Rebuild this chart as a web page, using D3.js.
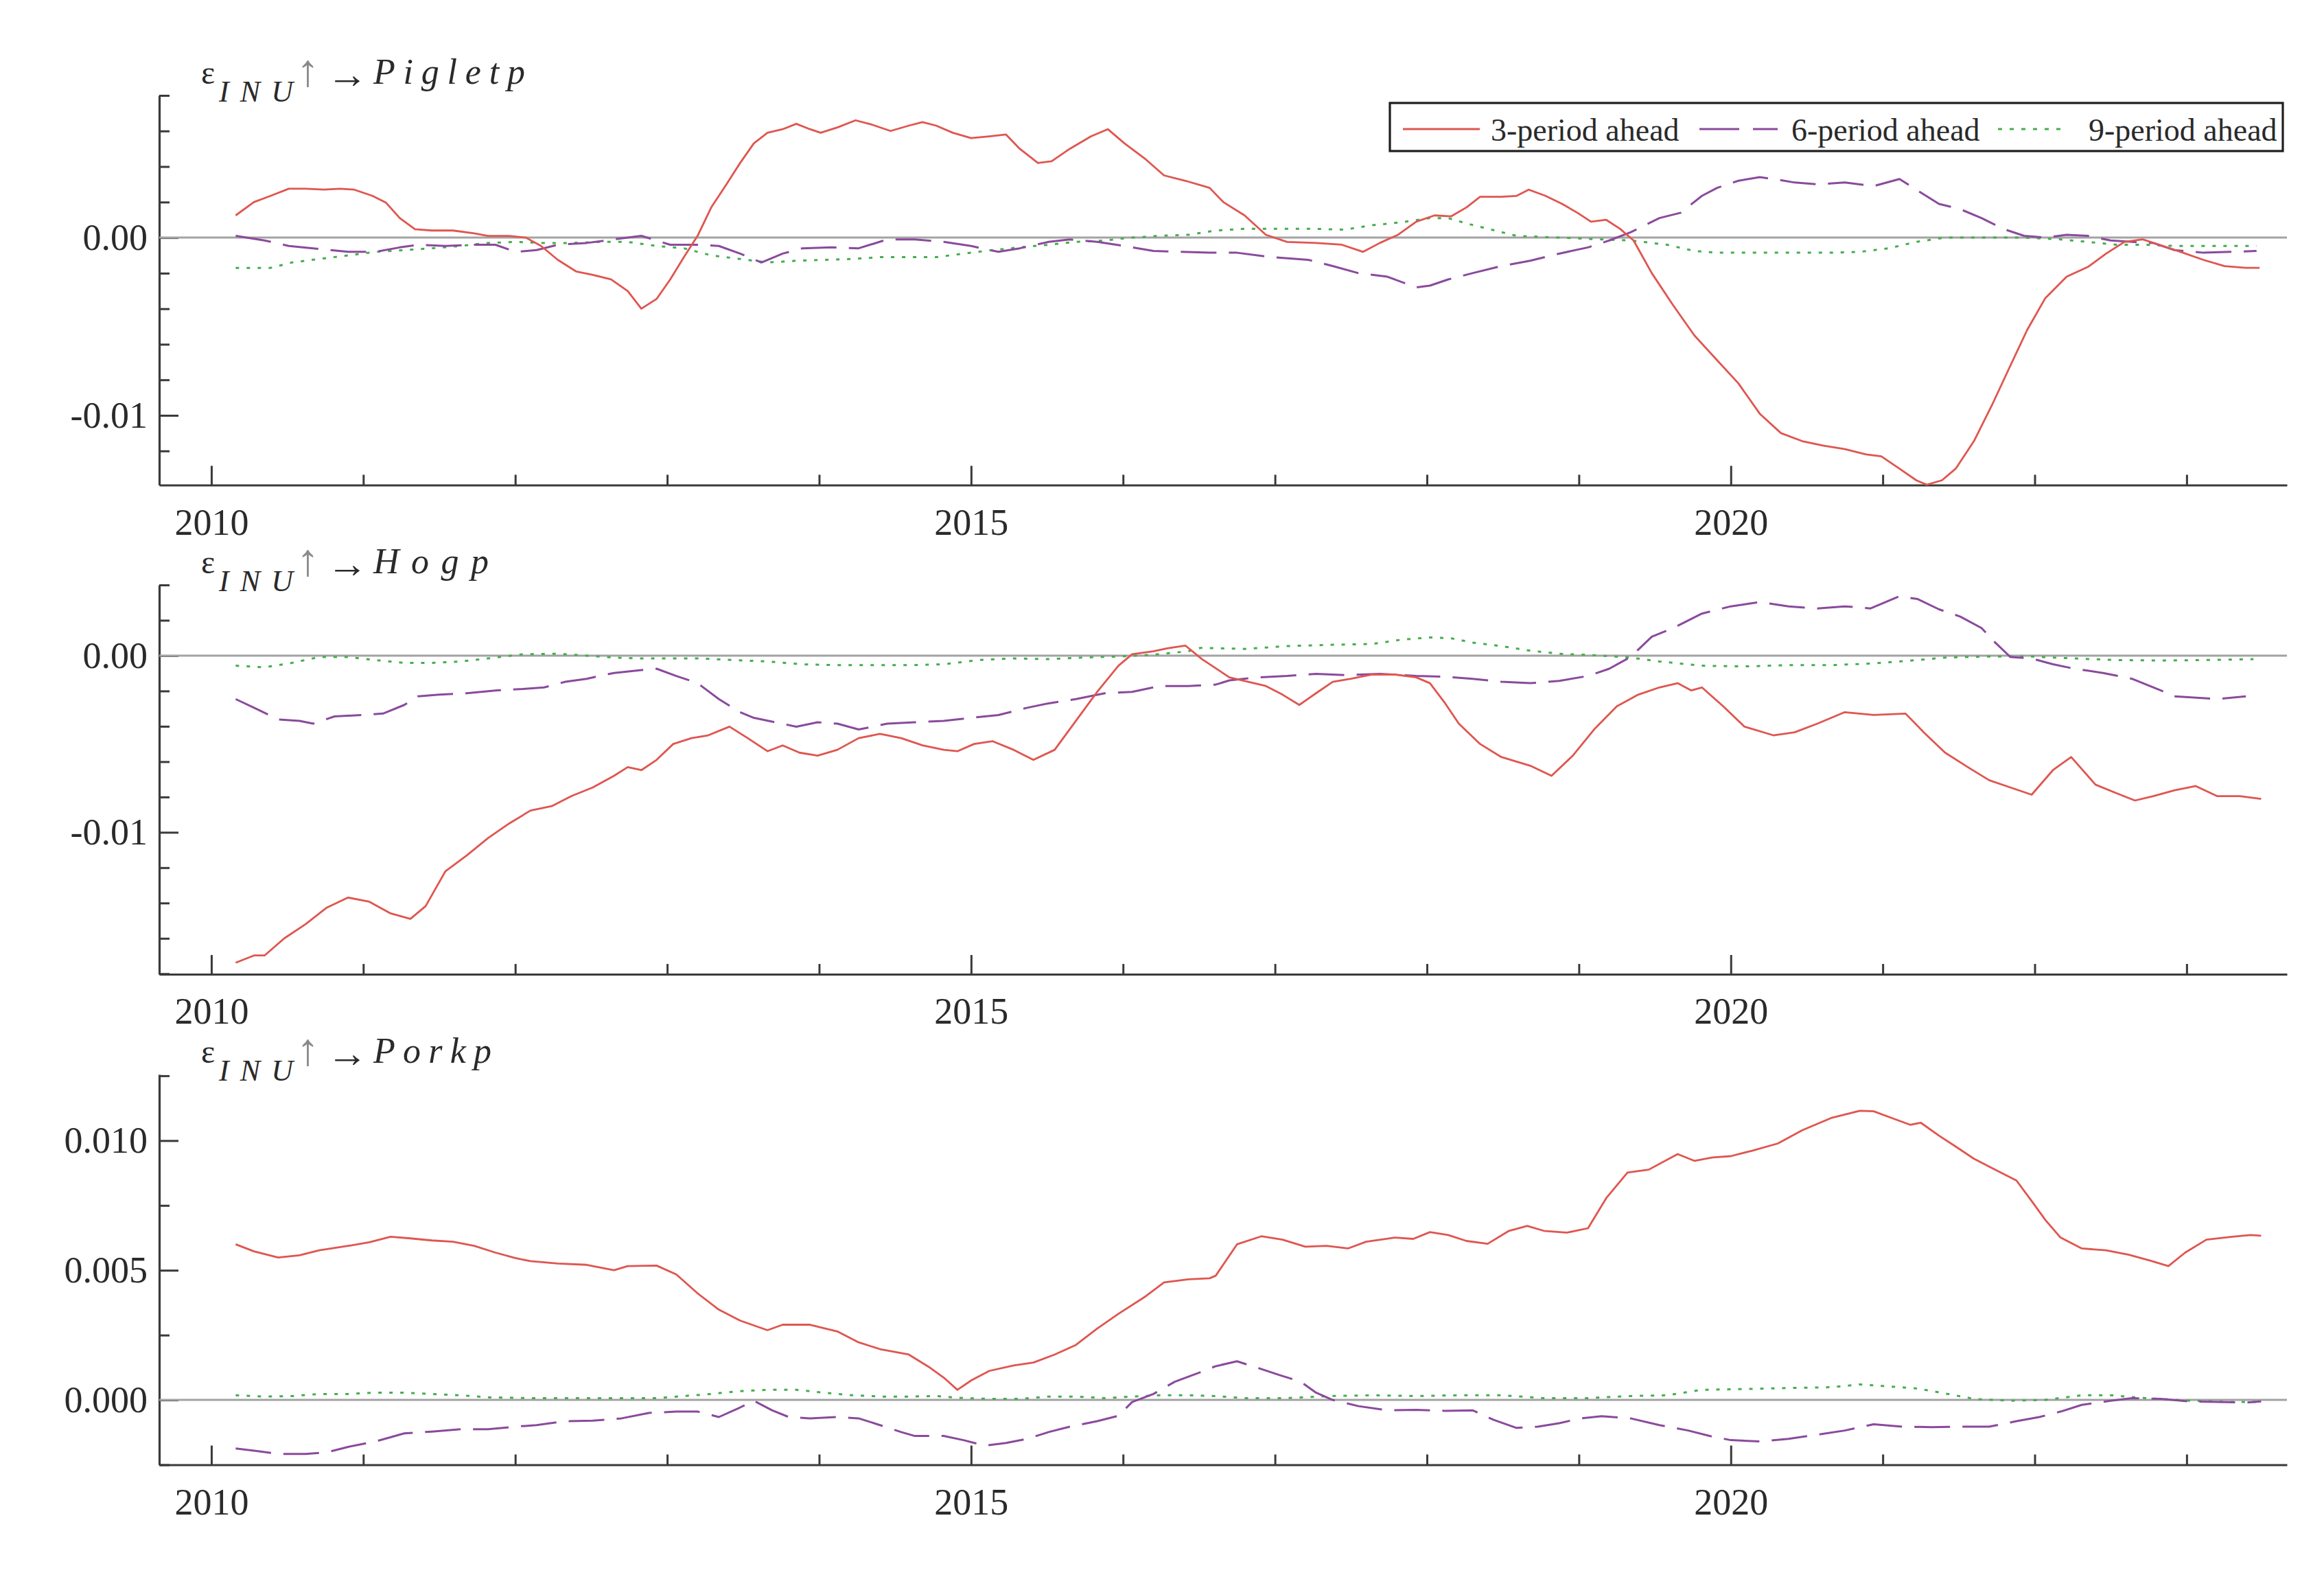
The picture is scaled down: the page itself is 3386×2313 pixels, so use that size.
<!DOCTYPE html>
<html><head><meta charset="utf-8">
<script src="https://cdn.jsdelivr.net/npm/d3@7"></script>
<style>html,body{margin:0;padding:0;background:#fff}svg{display:block}</style>
</head><body>
<svg id="chart" width="3386" height="2313"></svg>
<script>
// ---------------- DATA ----------------
const seriesLabels = ["3-period ahead", "6-period ahead", "9-period ahead"];
const panelNames = ["Pigletp", "Hogp", "Porkp"];
const xTickYears = [2010, 2011, 2012, 2013, 2014, 2015, 2016, 2017, 2018, 2019, 2020, 2021, 2022, 2023];
const xLabelYears = [2010, 2015, 2020];
const pigletMajorTicks = [-0.01, 0];
const pigletTickLabels = ["-0.01", "0.00"];
const hogMajorTicks = [-0.01, 0];
const hogTickLabels = ["-0.01", "0.00"];
const porkMajorTicks = [0, 0.005, 0.01];
const porkTickLabels = ["0.000", "0.005", "0.010"];

// [decimal year, value]
const pigletp3 = [[2010.16,0.00125],[2010.28,0.0020],[2010.39,0.00235],[2010.51,0.00275],[2010.62,0.00275],[2010.74,0.0027],[2010.85,0.00275],[2010.94,0.0027],[2011.06,0.00235],[2011.15,0.00196],[2011.24,0.0011],[2011.34,0.00047],[2011.45,0.0004],[2011.59,0.0004],[2011.73,0.00024],[2011.82,0.0001],[2011.96,0.0001],[2012.07,0.0],[2012.17,-0.00047],[2012.28,-0.00125],[2012.40,-0.0019],[2012.51,-0.0021],[2012.63,-0.00235],[2012.74,-0.003],[2012.83,-0.004],[2012.93,-0.00345],[2013.02,-0.00235],[2013.11,-0.0011],[2013.20,0.0001],[2013.29,0.0017],[2013.39,0.003],[2013.48,0.0042],[2013.57,0.0053],[2013.66,0.0059],[2013.76,0.0061],[2013.85,0.0064],[2013.94,0.0061],[2014.01,0.0059],[2014.12,0.0062],[2014.24,0.0066],[2014.35,0.00635],[2014.47,0.006],[2014.59,0.0063],[2014.68,0.0065],[2014.77,0.0063],[2014.88,0.0059],[2015.00,0.0056],[2015.12,0.0057],[2015.23,0.0058],[2015.32,0.005],[2015.44,0.0042],[2015.53,0.0043],[2015.65,0.005],[2015.79,0.0057],[2015.90,0.0061],[2016.01,0.0053],[2016.15,0.0044],[2016.27,0.0035],[2016.41,0.0032],[2016.57,0.0028],[2016.66,0.002],[2016.80,0.00125],[2016.94,0.00016],[2017.08,-0.00024],[2017.27,-0.0003],[2017.44,-0.0004],[2017.58,-0.0008],[2017.69,-0.0003],[2017.81,0.00016],[2017.93,0.0009],[2018.05,0.00125],[2018.16,0.0012],[2018.26,0.0017],[2018.35,0.0023],[2018.49,0.0023],[2018.59,0.00235],[2018.67,0.0027],[2018.78,0.00235],[2018.89,0.0019],[2018.99,0.0014],[2019.08,0.0009],[2019.18,0.001],[2019.27,0.0005],[2019.36,-0.00016],[2019.48,-0.002],[2019.62,-0.0038],[2019.76,-0.0055],[2019.91,-0.0069],[2020.05,-0.0082],[2020.19,-0.0099],[2020.33,-0.011],[2020.47,-0.01145],[2020.61,-0.0117],[2020.75,-0.0119],[2020.89,-0.0122],[2020.99,-0.0123],[2021.11,-0.013],[2021.22,-0.01365],[2021.29,-0.0139],[2021.39,-0.01365],[2021.48,-0.013],[2021.60,-0.01145],[2021.72,-0.0094],[2021.84,-0.0072],[2021.95,-0.0052],[2022.07,-0.0034],[2022.21,-0.0022],[2022.35,-0.00165],[2022.47,-0.0009],[2022.59,-0.00024],[2022.71,-0.0001],[2022.82,-0.0004],[2022.96,-0.0008],[2023.11,-0.00125],[2023.25,-0.0016],[2023.39,-0.0017],[2023.48,-0.0017]];
const pigletp6 = [[2010.16,0.0001],[2010.35,-0.00016],[2010.51,-0.00047],[2010.67,-0.0006],[2010.90,-0.0008],[2011.08,-0.0008],[2011.24,-0.00055],[2011.36,-0.0004],[2011.54,-0.00047],[2011.73,-0.0004],[2011.87,-0.0004],[2012.00,-0.0008],[2012.14,-0.0007],[2012.28,-0.0004],[2012.47,-0.0003],[2012.65,-0.0001],[2012.83,0.0001],[2013.02,-0.0004],[2013.20,-0.0004],[2013.34,-0.00047],[2013.48,-0.0009],[2013.62,-0.0014],[2013.76,-0.0009],[2013.89,-0.0006],[2014.08,-0.00055],[2014.26,-0.0006],[2014.45,-0.0001],[2014.63,-0.0001],[2014.82,-0.00024],[2015.00,-0.00047],[2015.18,-0.0008],[2015.32,-0.0006],[2015.51,-0.00024],[2015.65,-0.0001],[2015.83,-0.00024],[2016.01,-0.00047],[2016.20,-0.00075],[2016.38,-0.0008],[2016.57,-0.00085],[2016.75,-0.00085],[2016.98,-0.0011],[2017.22,-0.00125],[2017.38,-0.0016],[2017.55,-0.002],[2017.74,-0.0022],[2017.93,-0.0028],[2018.02,-0.0027],[2018.14,-0.00235],[2018.30,-0.002],[2018.49,-0.0016],[2018.68,-0.0013],[2018.87,-0.0009],[2019.06,-0.00055],[2019.20,-0.00016],[2019.34,0.0003],[2019.53,0.0011],[2019.67,0.0014],[2019.81,0.00235],[2019.91,0.0028],[2020.05,0.0032],[2020.19,0.0034],[2020.28,0.0033],[2020.42,0.0031],[2020.57,0.003],[2020.75,0.0031],[2020.94,0.0029],[2021.11,0.0033],[2021.22,0.0027],[2021.37,0.0019],[2021.51,0.0016],[2021.65,0.0011],[2021.79,0.0005],[2021.93,0.0001],[2022.07,0.0],[2022.21,0.00016],[2022.35,0.0001],[2022.50,-0.00016],[2022.64,-0.00024],[2022.78,-0.0003],[2022.92,-0.0007],[2023.11,-0.00085],[2023.30,-0.0008],[2023.46,-0.00075]];
const pigletp9 = [[2010.16,-0.0017],[2010.39,-0.0017],[2010.53,-0.0014],[2010.71,-0.0012],[2010.90,-0.001],[2011.08,-0.0008],[2011.27,-0.0007],[2011.45,-0.0006],[2011.64,-0.00047],[2011.82,-0.0003],[2012.00,-0.00024],[2012.19,-0.0003],[2012.37,-0.0003],[2012.56,-0.00024],[2012.74,-0.00024],[2012.93,-0.00047],[2013.11,-0.0006],[2013.29,-0.001],[2013.48,-0.0012],[2013.66,-0.0014],[2013.85,-0.0013],[2014.03,-0.00125],[2014.22,-0.0012],[2014.40,-0.0011],[2014.59,-0.0011],[2014.77,-0.0011],[2014.95,-0.0009],[2015.14,-0.0007],[2015.32,-0.00055],[2015.51,-0.0004],[2015.69,-0.00024],[2015.88,-0.00016],[2016.06,0.0],[2016.24,0.0001],[2016.43,0.00016],[2016.61,0.0004],[2016.80,0.0005],[2016.98,0.0005],[2017.22,0.0005],[2017.46,0.00045],[2017.64,0.0007],[2017.83,0.00086],[2018.02,0.0011],[2018.14,0.0011],[2018.26,0.0008],[2018.40,0.0005],[2018.59,0.0001],[2018.87,0.0],[2019.15,-0.0001],[2019.34,-0.00016],[2019.58,-0.0004],[2019.76,-0.00075],[2019.91,-0.00085],[2020.28,-0.00085],[2020.66,-0.00085],[2020.85,-0.0008],[2021.04,-0.0006],[2021.22,-0.00024],[2021.41,0.0],[2021.70,0.0],[2021.93,0.0],[2022.17,-0.0001],[2022.35,-0.00024],[2022.54,-0.0004],[2022.73,-0.0004],[2022.92,-0.00047],[2023.11,-0.00047],[2023.30,-0.00047],[2023.46,-0.00047]];

const hogp3 = [[2010.16,-0.01738],[2010.28,-0.01697],[2010.35,-0.01697],[2010.48,-0.016],[2010.62,-0.0152],[2010.76,-0.01426],[2010.90,-0.01369],[2011.04,-0.01393],[2011.18,-0.01459],[2011.31,-0.0149],[2011.41,-0.01418],[2011.54,-0.01221],[2011.68,-0.01131],[2011.82,-0.01033],[2011.96,-0.0095],[2012.10,-0.00877],[2012.24,-0.00852],[2012.37,-0.00795],[2012.51,-0.00746],[2012.65,-0.0068],[2012.74,-0.00631],[2012.83,-0.00648],[2012.93,-0.0059],[2013.04,-0.005],[2013.16,-0.00467],[2013.27,-0.00451],[2013.41,-0.00402],[2013.53,-0.00467],[2013.66,-0.00541],[2013.76,-0.00508],[2013.87,-0.00549],[2013.99,-0.00566],[2014.12,-0.00533],[2014.26,-0.00467],[2014.40,-0.00443],[2014.54,-0.00467],[2014.68,-0.00508],[2014.82,-0.00533],[2014.91,-0.00541],[2015.02,-0.005],[2015.14,-0.00484],[2015.28,-0.00533],[2015.41,-0.0059],[2015.55,-0.00533],[2015.69,-0.00369],[2015.83,-0.00205],[2015.97,-0.00057],[2016.06,0.00008],[2016.20,0.00025],[2016.29,0.00041],[2016.41,0.00057],[2016.52,-0.0002],[2016.70,-0.00123],[2016.94,-0.00172],[2017.05,-0.00221],[2017.16,-0.00279],[2017.27,-0.00213],[2017.38,-0.00148],[2017.50,-0.00131],[2017.64,-0.00107],[2017.79,-0.00107],[2017.93,-0.00123],[2018.02,-0.00156],[2018.12,-0.0027],[2018.21,-0.00385],[2018.35,-0.005],[2018.49,-0.00574],[2018.68,-0.00623],[2018.82,-0.0068],[2018.96,-0.00566],[2019.10,-0.00418],[2019.25,-0.00287],[2019.39,-0.00221],[2019.53,-0.0018],[2019.65,-0.00156],[2019.74,-0.00197],[2019.81,-0.0018],[2019.95,-0.00287],[2020.09,-0.00402],[2020.28,-0.00451],[2020.42,-0.00434],[2020.57,-0.00385],[2020.75,-0.0032],[2020.94,-0.00336],[2021.15,-0.00328],[2021.27,-0.00434],[2021.41,-0.00549],[2021.56,-0.00631],[2021.70,-0.00705],[2021.84,-0.00746],[2021.98,-0.00787],[2022.12,-0.00648],[2022.24,-0.00574],[2022.40,-0.0073],[2022.54,-0.00779],[2022.66,-0.0082],[2022.78,-0.00795],[2022.92,-0.00762],[2023.06,-0.00738],[2023.20,-0.00795],[2023.35,-0.00795],[2023.49,-0.00811]];
const hogp6 = [[2010.16,-0.00246],[2010.30,-0.00303],[2010.44,-0.00361],[2010.58,-0.00369],[2010.67,-0.00385],[2010.81,-0.00344],[2010.99,-0.00336],[2011.13,-0.00328],[2011.27,-0.00279],[2011.36,-0.0023],[2011.50,-0.00221],[2011.68,-0.00213],[2011.87,-0.00197],[2012.05,-0.00189],[2012.19,-0.0018],[2012.33,-0.00148],[2012.47,-0.00131],[2012.65,-0.00098],[2012.83,-0.00082],[2012.93,-0.00074],[2013.06,-0.00115],[2013.20,-0.00156],[2013.34,-0.00246],[2013.48,-0.0032],[2013.57,-0.00352],[2013.71,-0.00377],[2013.85,-0.00402],[2013.99,-0.00377],[2014.12,-0.00385],[2014.26,-0.00418],[2014.45,-0.00385],[2014.63,-0.00377],[2014.82,-0.00369],[2015.00,-0.00352],[2015.18,-0.00336],[2015.37,-0.00295],[2015.51,-0.0027],[2015.69,-0.00246],[2015.88,-0.00213],[2016.06,-0.00205],[2016.24,-0.00172],[2016.43,-0.00172],[2016.61,-0.00164],[2016.70,-0.0014],[2016.89,-0.00123],[2017.08,-0.00115],[2017.27,-0.00103],[2017.46,-0.0011],[2017.69,-0.00103],[2017.93,-0.00115],[2018.12,-0.0012],[2018.30,-0.00131],[2018.49,-0.00148],[2018.68,-0.00156],[2018.87,-0.00143],[2019.06,-0.00115],[2019.20,-0.00074],[2019.34,-0.00008],[2019.48,0.00107],[2019.62,0.00156],[2019.81,0.00238],[2020.00,0.00279],[2020.19,0.00303],[2020.38,0.00279],[2020.57,0.00267],[2020.75,0.00279],[2020.92,0.00267],[2021.11,0.00336],[2021.23,0.0032],[2021.37,0.00262],[2021.51,0.00221],[2021.65,0.00156],[2021.74,0.00074],[2021.84,-0.00008],[2021.98,-0.00016],[2022.12,-0.00049],[2022.26,-0.00074],[2022.45,-0.00098],[2022.64,-0.00131],[2022.83,-0.00197],[2022.92,-0.0023],[2023.20,-0.00246],[2023.39,-0.0023]];
const hogp9 = [[2010.16,-0.00057],[2010.35,-0.00066],[2010.53,-0.00041],[2010.71,-0.00008],[2010.90,-0.00008],[2011.08,-0.00025],[2011.27,-0.00041],[2011.45,-0.00041],[2011.64,-0.00033],[2011.82,-0.00016],[2012.05,0.00008],[2012.28,0.00011],[2012.47,0.0],[2012.65,-0.00011],[2012.83,-0.00016],[2013.02,-0.00016],[2013.20,-0.00016],[2013.43,-0.00025],[2013.66,-0.00033],[2013.89,-0.00049],[2014.12,-0.00054],[2014.35,-0.00054],[2014.59,-0.00054],[2014.82,-0.00049],[2015.05,-0.00025],[2015.28,-0.00016],[2015.51,-0.0002],[2015.74,-0.00011],[2015.97,-0.00005],[2016.20,0.00005],[2016.43,0.00025],[2016.51,0.00044],[2016.80,0.00038],[2017.08,0.00054],[2017.36,0.00061],[2017.64,0.00066],[2017.83,0.0009],[2018.02,0.00103],[2018.16,0.00098],[2018.30,0.00074],[2018.49,0.00054],[2018.68,0.00028],[2018.87,0.00011],[2019.15,0.0],[2019.34,-0.00011],[2019.53,-0.00033],[2019.81,-0.00057],[2020.09,-0.00061],[2020.38,-0.00054],[2020.66,-0.00054],[2020.94,-0.00044],[2021.23,-0.00025],[2021.41,-0.00011],[2021.70,-0.00005],[2021.98,-0.00005],[2022.26,-0.00016],[2022.54,-0.00025],[2022.83,-0.00028],[2023.11,-0.00025],[2023.44,-0.0002]];

const porkp3 = [[2010.16,0.006],[2010.28,0.00573],[2010.44,0.00549],[2010.58,0.00558],[2010.71,0.00577],[2010.90,0.00594],[2011.04,0.00608],[2011.18,0.00629],[2011.31,0.00623],[2011.45,0.00615],[2011.59,0.0061],[2011.73,0.00594],[2011.87,0.00568],[2012.00,0.00547],[2012.10,0.00535],[2012.28,0.00526],[2012.47,0.00521],[2012.65,0.005],[2012.74,0.00516],[2012.93,0.00518],[2013.06,0.00484],[2013.20,0.00411],[2013.34,0.00348],[2013.48,0.00306],[2013.66,0.00269],[2013.76,0.0029],[2013.94,0.0029],[2014.12,0.00264],[2014.26,0.00222],[2014.40,0.00196],[2014.59,0.00175],[2014.72,0.00128],[2014.82,0.00086],[2014.91,0.00039],[2015.00,0.00075],[2015.12,0.00112],[2015.28,0.00133],[2015.41,0.00144],[2015.55,0.00175],[2015.69,0.00212],[2015.83,0.00275],[2015.97,0.00332],[2016.15,0.004],[2016.27,0.00453],[2016.43,0.00465],[2016.57,0.00469],[2016.61,0.00479],[2016.75,0.006],[2016.91,0.00631],[2017.05,0.00618],[2017.20,0.00591],[2017.34,0.00594],[2017.48,0.00584],[2017.60,0.0061],[2017.79,0.00626],[2017.91,0.00621],[2018.02,0.00647],[2018.14,0.00636],[2018.26,0.00613],[2018.40,0.00602],[2018.54,0.00652],[2018.66,0.00671],[2018.77,0.00652],[2018.92,0.00645],[2019.06,0.00662],[2019.18,0.00778],[2019.32,0.00877],[2019.46,0.00888],[2019.65,0.00948],[2019.76,0.00922],[2019.88,0.00935],[2020.00,0.0094],[2020.14,0.00961],[2020.31,0.00989],[2020.47,0.0104],[2020.66,0.01087],[2020.85,0.01115],[2020.94,0.01113],[2021.06,0.01087],[2021.18,0.01061],[2021.25,0.01069],[2021.37,0.01019],[2021.48,0.00977],[2021.60,0.0093],[2021.74,0.00888],[2021.88,0.00846],[2021.98,0.00767],[2022.07,0.00694],[2022.17,0.00626],[2022.31,0.00584],[2022.47,0.00577],[2022.62,0.0056],[2022.76,0.00537],[2022.88,0.00516],[2022.99,0.00568],[2023.13,0.00618],[2023.30,0.00629],[2023.42,0.00636],[2023.49,0.00633]];
const porkp6 = [[2010.16,-0.00187],[2010.30,-0.00197],[2010.44,-0.00208],[2010.62,-0.00208],[2010.76,-0.00202],[2010.90,-0.00181],[2011.08,-0.0016],[2011.27,-0.00129],[2011.45,-0.00122],[2011.64,-0.00113],[2011.82,-0.00113],[2012.00,-0.00103],[2012.14,-0.00097],[2012.33,-0.00082],[2012.51,-0.0008],[2012.70,-0.00071],[2012.88,-0.0005],[2013.06,-0.00045],[2013.20,-0.00045],[2013.34,-0.00066],[2013.48,-0.00029],[2013.57,-0.00003],[2013.69,-0.0004],[2013.80,-0.00066],[2013.94,-0.00071],[2014.12,-0.00066],[2014.26,-0.00071],[2014.40,-0.00097],[2014.54,-0.00124],[2014.63,-0.00139],[2014.82,-0.00139],[2014.95,-0.00155],[2015.09,-0.00176],[2015.23,-0.00166],[2015.37,-0.0015],[2015.51,-0.00124],[2015.65,-0.00103],[2015.83,-0.00082],[2015.97,-0.00061],[2016.06,-0.00008],[2016.20,0.00023],[2016.34,0.0007],[2016.51,0.00107],[2016.61,0.0013],[2016.75,0.00149],[2016.89,0.00123],[2017.03,0.00096],[2017.17,0.0007],[2017.27,0.00028],[2017.38,0.0],[2017.55,-0.00024],[2017.74,-0.0004],[2017.93,-0.00038],[2018.12,-0.00042],[2018.30,-0.0004],[2018.44,-0.00077],[2018.59,-0.00108],[2018.73,-0.00103],[2018.87,-0.0009],[2019.01,-0.00071],[2019.15,-0.00063],[2019.34,-0.00071],[2019.53,-0.00097],[2019.72,-0.00118],[2019.86,-0.00139],[2020.00,-0.00155],[2020.19,-0.0016],[2020.38,-0.0015],[2020.57,-0.00134],[2020.75,-0.00118],[2020.94,-0.00094],[2021.13,-0.00103],[2021.32,-0.00105],[2021.51,-0.00103],[2021.70,-0.00103],[2021.88,-0.00082],[2022.03,-0.00066],[2022.17,-0.00045],[2022.31,-0.00019],[2022.50,-0.00003],[2022.64,0.00007],[2022.83,0.00004],[2023.02,-0.00006],[2023.20,-0.00008],[2023.39,-0.0001],[2023.49,-0.00006]];
const porkp9 = [[2010.16,0.00018],[2010.35,0.00013],[2010.53,0.00015],[2010.71,0.00023],[2010.90,0.00023],[2011.08,0.00028],[2011.27,0.00028],[2011.45,0.00023],[2011.64,0.00018],[2011.82,0.0001],[2012.10,0.00007],[2012.37,0.00007],[2012.65,0.00007],[2012.93,0.00007],[2013.11,0.00015],[2013.29,0.00023],[2013.48,0.00034],[2013.66,0.00039],[2013.85,0.00039],[2014.03,0.00028],[2014.22,0.00018],[2014.40,0.00013],[2014.59,0.00013],[2014.77,0.00015],[2014.95,0.00007],[2015.14,0.00004],[2015.32,0.00004],[2015.51,0.00013],[2015.69,0.00013],[2015.88,0.00007],[2016.06,0.00013],[2016.24,0.00018],[2016.43,0.00018],[2016.61,0.00015],[2016.80,0.00007],[2017.08,0.00007],[2017.36,0.00015],[2017.64,0.00018],[2017.93,0.00015],[2018.21,0.00018],[2018.49,0.00018],[2018.77,0.00007],[2019.06,0.00007],[2019.34,0.00015],[2019.58,0.00018],[2019.81,0.00039],[2020.09,0.00042],[2020.38,0.00046],[2020.66,0.00049],[2020.85,0.0006],[2021.04,0.00052],[2021.23,0.00044],[2021.41,0.00025],[2021.60,0.00004],[2021.84,-0.00003],[2022.07,0.0],[2022.31,0.00018],[2022.50,0.00018],[2022.73,0.00007],[2023.02,-0.00003],[2023.30,-0.00008],[2023.46,-0.00008]];

// ---------------- LAYOUT ----------------
const W = 3386, H = 2313;
const X0 = 232, X1 = 3332;
const FONT = "'Liberation Serif','Times New Roman',Times,serif";
const colors = ["#df5650", "#8a4a9c", "#46ad4f"];
const dashes = [null, "52,18", "5,11"];
const widths = [2.8, 3, 3];
const axisColor = "#3a3a3a";

const panels = [
  {name: panelNames[0], series: [pigletp3, pigletp6, pigletp9], top: 139, bottom: 706.5, domain: [-0.01392, 0.008],
   major: pigletMajorTicks, labels: pigletTickLabels, minorStep: 0.002, nameWidth: 221, legend: true},
  {name: panelNames[1], series: [hogp3, hogp6, hogp9], top: 852, bottom: 1419, domain: [-0.01803, 0.004],
   major: hogMajorTicks, labels: hogTickLabels, minorStep: 0.002, nameWidth: 168, legend: false},
  {name: panelNames[2], series: [porkp3, porkp6, porkp9], top: 1565, bottom: 2133.5, domain: [-0.0025, 0.01255],
   major: porkMajorTicks, labels: porkTickLabels, minorStep: 0.0025, nameWidth: 172, legend: false}
];

const svg = d3.select("#chart");
svg.append("rect").attr("width", W).attr("height", H).attr("fill", "#fff");

const x = d3.scaleLinear().domain([2009.657, 2023.66]).range([X0, X1]);

panels.forEach(p => {
  const y = d3.scaleLinear().domain(p.domain).range([p.bottom, p.top]);
  const g = svg.append("g");

  // minor ticks on y
  const minor = [];
  const lo = Math.ceil(p.domain[0] / p.minorStep - 1e-6), hi = Math.floor(p.domain[1] / p.minorStep + 1e-6);
  for (let k = lo; k <= hi; k++) {
    const v = +(k * p.minorStep).toFixed(6);
    if (!p.major.some(m => Math.abs(m - v) < 1e-9)) minor.push(v);
  }
  const yMinor = g.append("g").attr("transform", `translate(${X0},0)`)
    .call(d3.axisLeft(y).tickValues(minor).tickSizeInner(-15).tickSizeOuter(0).tickFormat(""));
  yMinor.select(".domain").remove();
  yMinor.attr("color", axisColor).selectAll("line").attr("stroke-width", 3);

  const yMajor = g.append("g").attr("transform", `translate(${X0},0)`)
    .call(d3.axisLeft(y).tickValues(p.major).tickSizeInner(-28).tickSizeOuter(0).tickPadding(17)
      .tickFormat((d, i) => p.labels[i]));
  yMajor.attr("color", axisColor).attr("font-family", FONT).attr("font-size", 54);
  yMajor.selectAll("line").attr("stroke-width", 3);
  yMajor.select(".domain").attr("stroke-width", 3.2);
  yMajor.selectAll("text").attr("fill", "#2a2a2a");

  // x axis
  const xMinor = g.append("g").attr("transform", `translate(0,${p.bottom})`)
    .call(d3.axisBottom(x).tickValues(xTickYears.filter(t => !xLabelYears.includes(t))).tickSizeInner(-15).tickSizeOuter(0).tickFormat(""));
  xMinor.select(".domain").remove();
  xMinor.attr("color", axisColor).selectAll("line").attr("stroke-width", 3);

  const xMajor = g.append("g").attr("transform", `translate(0,${p.bottom})`)
    .call(d3.axisBottom(x).tickValues(xLabelYears).tickSizeInner(-28).tickSizeOuter(0).tickPadding(34)
      .tickFormat(d3.format("d")));
  xMajor.attr("color", axisColor).attr("font-family", FONT).attr("font-size", 54);
  xMajor.selectAll("line").attr("stroke-width", 3);
  xMajor.select(".domain").attr("stroke-width", 3.2);
  xMajor.selectAll("text").attr("fill", "#2a2a2a");

  // zero line
  g.append("line").attr("x1", X0).attr("x2", X1).attr("y1", y(0)).attr("y2", y(0))
    .attr("stroke", "#a3a3a3").attr("stroke-width", 3);

  // series (draw 9 first, then 6, then 3)
  const line = d3.line().x(d => x(d[0])).y(d => y(d[1]));
  [2, 1, 0].forEach(i => {
    const path = g.append("path").datum(p.series[i]).attr("d", line)
      .attr("fill", "none").attr("stroke", colors[i]).attr("stroke-width", widths[i])
      .attr("stroke-linejoin", "round");
    if (dashes[i]) path.attr("stroke-dasharray", dashes[i]);
  });

  // title  ε_INU ↑ → Name
  const t = svg.append("g").attr("transform", `translate(0,${p.top})`).attr("font-family", FONT).attr("fill", "#2a2a2a");
  t.append("text").attr("x", 293).attr("y", -17).attr("font-size", 48).text("ε");
  t.append("text").attr("x", 319).attr("y", 9).attr("font-size", 44).attr("font-style", "italic")
    .attr("textLength", 108).attr("lengthAdjust", "spacing").text("INU");
  t.append("text").attr("x", 432).attr("y", -14).attr("font-size", 66).attr("fill", "#8a8a8a").text("↑");
  t.append("text").attr("x", 476).attr("y", -11).attr("font-size", 58)
    .attr("textLength", 60).attr("lengthAdjust", "spacingAndGlyphs").text("→");
  t.append("text").attr("x", 544).attr("y", -17).attr("font-size", 52).attr("font-style", "italic")
    .attr("textLength", p.nameWidth).attr("lengthAdjust", "spacing").text(p.name);

  // legend
  if (p.legend) {
    const lg = svg.append("g").attr("font-family", FONT);
    lg.append("rect").attr("x", 2025).attr("y", 150).attr("width", 1301).attr("height", 70)
      .attr("fill", "#fff").attr("stroke", "#1e1e1e").attr("stroke-width", 3.2);
    const items = [
      {x1: 2044, x2: 2156, tx: 2172},
      {x1: 2476, x2: 2590, tx: 2610},
      {x1: 2911, x2: 3010, tx: 3043}
    ];
    items.forEach((it, i) => {
      const l = lg.append("line").attr("x1", it.x1).attr("x2", it.x2).attr("y1", 188).attr("y2", 188)
        .attr("stroke", colors[i]).attr("stroke-width", widths[i]);
      if (dashes[i]) l.attr("stroke-dasharray", i === 1 ? "58,20" : "6,11");
      lg.append("text").attr("x", it.tx).attr("y", 205).attr("font-size", 46).attr("fill", "#2a2a2a")
        .text(seriesLabels[i]);
    });
  }
});
</script>
</body></html>
